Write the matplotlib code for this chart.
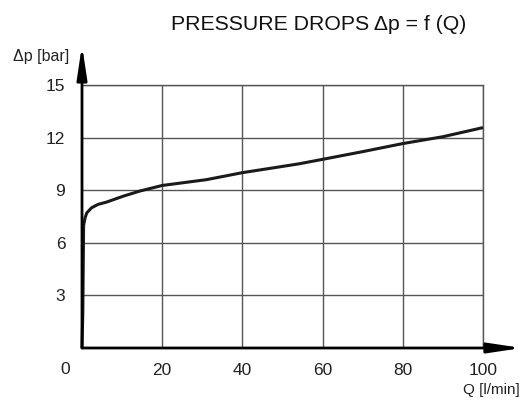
import matplotlib
matplotlib.use("Agg")
import matplotlib.pyplot as plt

plt.rcParams["font.family"] = ["Liberation Sans", "DejaVu Sans"]

# flow rate Q [l/min] and pressure drop dp [bar]
q = [0, 0.2, 0.4, 0.8, 1.2, 2.4, 4.0, 6.1, 10.3, 14.4, 20, 31, 40, 54, 60, 70, 80, 90, 100]
dp = [0, 2.0, 7.0, 7.45, 7.71, 8.0, 8.19, 8.32, 8.66, 8.95, 9.27, 9.6, 10.0, 10.5, 10.76, 11.2, 11.66, 12.05, 12.57]

x_ticks = [20, 40, 60, 80, 100]
y_ticks = [3, 6, 9, 12, 15]

fig = plt.figure(figsize=(5.25, 4), dpi=100)
ax = fig.add_axes([82 / 525, 1 - 348 / 400, (483 - 82) / 525, (348 - 85) / 400])

ax.set_xlim(0, 100)
ax.set_ylim(0, 15)
ax.set_xticks(x_ticks)
ax.set_yticks(y_ticks)
ax.tick_params(length=0, labelsize=12.5, colors="#222222")
ax.tick_params(axis="x", pad=11)
ax.tick_params(axis="y", pad=12)
ax.grid(color="#555555", lw=1)
ax.set_axisbelow(True)

for side in ["left", "bottom"]:
    ax.spines[side].set_visible(False)
for side in ["top", "right"]:
    ax.spines[side].set_color("#555555")
    ax.spines[side].set_linewidth(1)

ax.plot(q, dp, color="#1a1a1a", lw=2.2, solid_capstyle="butt", clip_on=False, zorder=5)

# axes with arrow heads
arrow = dict(arrowstyle="-|>,head_length=2.0,head_width=0.3", lw=2, color="black",
             shrinkA=0, shrinkB=0)
ax.annotate("", xy=(0, 1.152), xytext=(0, 0), xycoords="axes fraction",
            textcoords="axes fraction", arrowprops=arrow, zorder=6)
ax.annotate("", xy=(1.097, 0), xytext=(0, 0), xycoords="axes fraction",
            textcoords="axes fraction", arrowprops=arrow, zorder=6)

fig.text(65 / 525, 1 - 369 / 400, "0", ha="center", va="center", fontsize=12.5, color="#222222")
fig.text(69 / 525, 1 - 57 / 400, "Δp [bar]", ha="right", va="center", fontsize=11.5, color="#222222")
fig.text(520 / 525, 1 - 390 / 400, "Q [l/min]", ha="right", va="center", fontsize=11, color="#222222")
fig.text(319 / 525, 1 - 24 / 400, "PRESSURE DROPS Δp = f (Q)", ha="center", va="center",
         fontsize=15.3, color="#111111")

fig.savefig("out.png", dpi=100)
